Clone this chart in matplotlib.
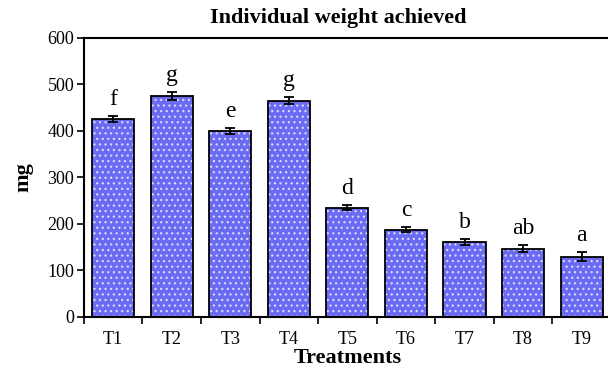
import matplotlib
matplotlib.use('Agg')
import matplotlib.pyplot as plt
import numpy as np

plt.rcParams['font.family'] = 'Liberation Serif'
plt.rcParams['hatch.linewidth'] = 0.9

# data
treatments = ['T1', 'T2', 'T3', 'T4', 'T5', 'T6', 'T7', 'T8', 'T9']
weight = [426, 475, 400, 465, 235, 188, 161, 147, 130]
err = [6, 8, 6, 8, 5, 5, 7, 8, 9]
letters = ['f', 'g', 'e', 'g', 'd', 'c', 'b', 'ab', 'a']

fig = plt.figure(figsize=(6.08, 3.75), dpi=100)
ax = fig.add_axes([0.138, 0.1547, 0.8668, 0.744])

x = np.arange(len(treatments))
bar_col = '#6a6af2'
# fill with white dots, then black outline on top
ax.bar(x, weight, width=0.72, color=bar_col, edgecolor='#d8d8ff', hatch='...', linewidth=0, zorder=2)
ax.bar(x, weight, width=0.72, color='none', edgecolor='black', linewidth=1.3, zorder=3)
ax.errorbar(x, weight, yerr=err, fmt='none', ecolor='black', elinewidth=1.3, capsize=3.5, capthick=1.3, zorder=4)

for xi, w, e, lab in zip(x, weight, err, letters):
    ax.annotate(lab, (xi, w + e), xytext=(0, 8), textcoords='offset points',
                ha='center', va='baseline', fontsize=17)

ax.set_xlim(-0.5, len(treatments) - 0.5)
ax.set_ylim(0, 600)
ax.set_yticks(range(0, 601, 100))
ax.tick_params(axis='y', labelsize=13, direction='out', length=5, width=1.2, pad=2)

# category labels without ticks, ticks sit between bars
ax.set_xticks(x)
ax.set_xticklabels(treatments)
ax.tick_params(axis='x', which='major', length=0, labelsize=13, pad=10)
ax.set_xticks(np.arange(-0.5, len(treatments) - 0.4, 1), minor=True)
ax.tick_params(axis='x', which='minor', direction='out', length=5, width=1.2)

ax.spines['right'].set_visible(False)
for s in ['left', 'bottom', 'top']:
    ax.spines[s].set_linewidth(1.5)

ax.set_ylabel('mg', fontsize=16, fontweight='bold', labelpad=10)
ax.set_xlabel('Treatments', fontsize=16, fontweight='bold', labelpad=0)
fig.text(0.556, 0.953, 'Individual weight achieved', ha='center', va='center',
         fontsize=16, fontweight='bold')

fig.savefig('out.png', dpi=100)
